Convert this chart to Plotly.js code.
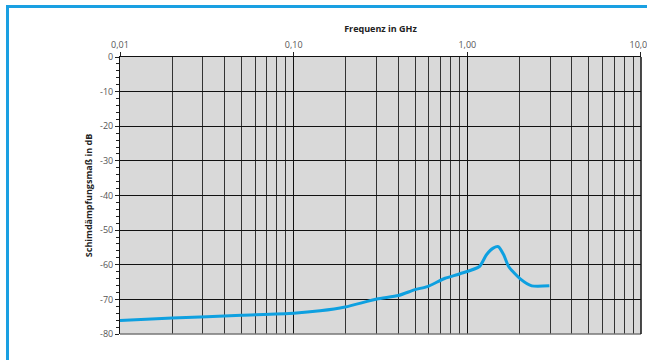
<!DOCTYPE html>
<html>
<head>
<meta charset="utf-8">
<script src="https://cdn.plot.ly/plotly-3.0.1.min.js"></script>
<style>
html,body{margin:0;padding:0;background:#fff;overflow:hidden;}
#frame{position:absolute;left:6px;top:5px;width:700px;height:400px;border:3px solid #1aa0e2;box-sizing:border-box;pointer-events:none;z-index:5;}
#chart{position:absolute;left:0;top:0;width:647px;height:360px;}
</style>
</head>
<body>
<div id="chart"></div>
<div id="frame"></div>
<script>
// Data
const freqGHz = [0.01, 0.02, 0.05, 0.1, 0.142, 0.198, 0.301, 0.401, 0.5, 0.589, 0.745, 0.909, 1.175, 1.29, 1.41, 1.51, 1.62, 1.73, 2.01, 2.35, 2.97];
const dampingDb = [-76.1, -75.4, -74.6, -74.0, -73.3, -72.2, -69.9, -68.9, -67.2, -66.3, -63.9, -62.6, -60.5, -57.1, -55.2, -54.8, -57.1, -60.5, -64.0, -66.1, -66.1];
const xTickVals = [0.01, 0.1, 1, 10];
const xTickText = ["0,01", "0,10", "1,00", "10,00"];
const yTickVals = [0, -10, -20, -30, -40, -50, -60, -70, -80];
const yTickText = ["0", "-10", "-20", "-30", "-40", "-50", "-60", "-70", "-80"];

const font = "'Open Sans', 'Liberation Sans', sans-serif";

const trace = {
  x: freqGHz, y: dampingDb, type: 'scatter', mode: 'lines',
  line: {color: '#0ea0e0', width: 3, shape: 'spline', smoothing: 0.6},
  hoverinfo: 'skip'
};

const layout = {
  width: 647, height: 360,
  margin: {l: 120, r: 6, t: 57, b: 26, pad: 0},
  paper_bgcolor: '#ffffff',
  plot_bgcolor: '#d9d9d9',
  showlegend: false,
  font: {family: font, size: 9, color: '#555'},
  xaxis: {
    type: 'log', side: 'top',
    range: [-2, 1.0003],
    tickvals: xTickVals, ticktext: xTickText,
    ticklabeloverflow: 'allow',
    ticks: 'outside', ticklen: 4, tickcolor: '#222', tickwidth: 1,
    tickfont: {family: font, size: 9, color: '#555'},
    showgrid: true, gridcolor: '#111', gridwidth: 1,
    minor: {dtick: 'D1', showgrid: true, gridcolor: '#333', gridwidth: 1, ticks: ''},
    showline: true, linecolor: '#111', linewidth: 1,
    zeroline: false,
    title: {text: 'Frequenz in GHz', font: {family: font, size: 9, color: '#222', weight: 'bold'}, standoff: 4}
  },
  yaxis: {
    range: [-80, 0],
    tickvals: yTickVals, ticktext: yTickText,
    ticks: 'outside', ticklen: 4, tickcolor: '#222', tickwidth: 1,
    tickfont: {family: font, size: 9, color: '#555'},
    showgrid: true, gridcolor: '#111', gridwidth: 1,
    minor: {dtick: 2, ticks: 'outside', ticklen: 3, tickcolor: '#222', showgrid: false},
    showline: true, linecolor: '#111', linewidth: 1,
    zeroline: false,
    title: {text: 'Schimdämpfungsmaß in dB', font: {family: font, size: 9, color: '#222', weight: 'bold'}, standoff: 5}
  },
  shapes: [
    {type: 'line', xref: 'paper', yref: 'paper', x0: 0, x1: 1, y0: 0, y1: 0, line: {color: '#777', width: 1.5}},
    {type: 'line', xref: 'paper', yref: 'paper', x0: 1, x1: 1, y0: 0, y1: 1, line: {color: '#111', width: 1.5}}
  ]
};

Plotly.newPlot('chart', [trace], layout, {staticPlot: true, displayModeBar: false});
</script>
</body>
</html>
